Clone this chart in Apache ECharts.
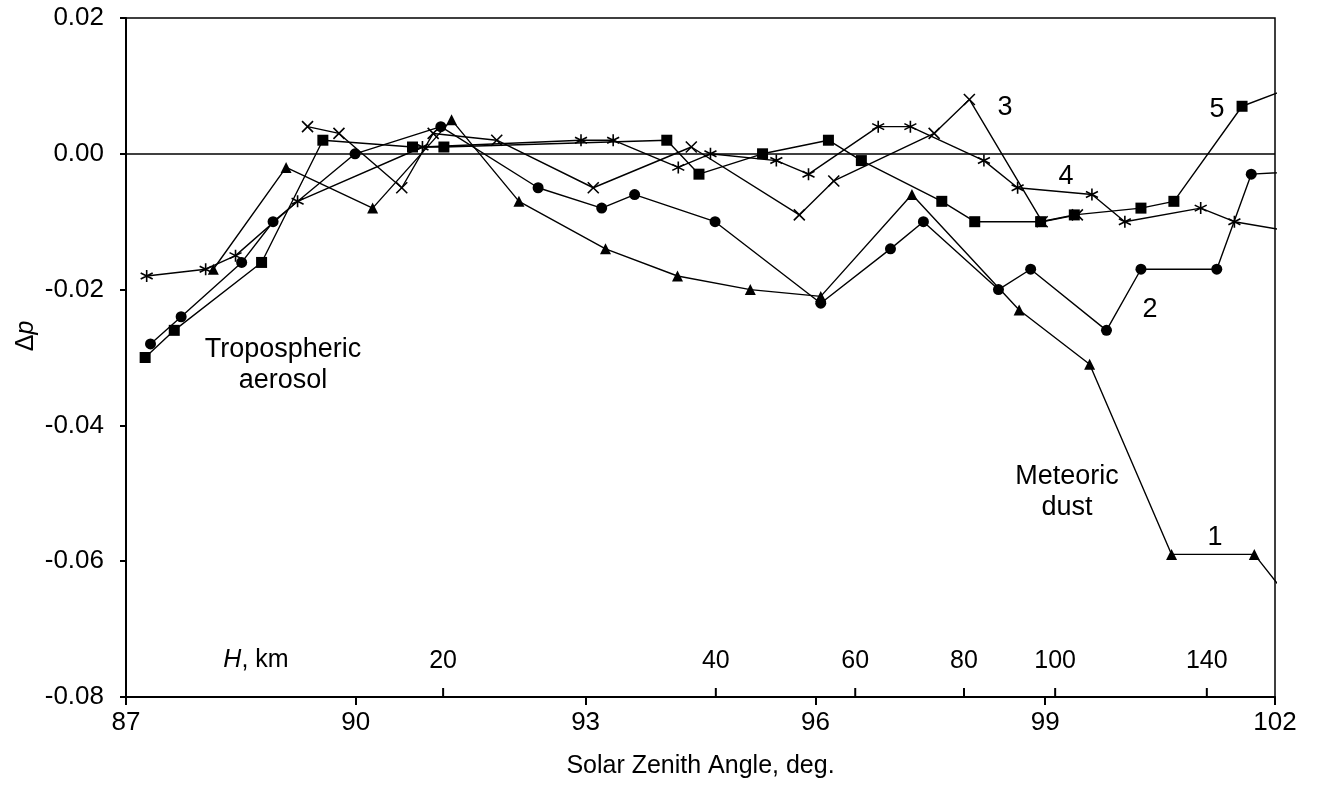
<!DOCTYPE html>
<html>
<head>
<meta charset="utf-8">
<script src="https://cdn.jsdelivr.net/npm/echarts@6/dist/echarts.min.js"></script>
<style>
html, body { margin: 0; padding: 0; background: #fff; }
#chart { width: 1319px; height: 789px; }
</style>
</head>
<body>
<div id="chart"></div>
<script>
// curve 1 - triangles (meteoric dust)
const s1x = [88.14, 89.09, 90.22, 91.25, 92.13, 93.26, 94.20, 95.15, 96.07, 97.26, 98.66, 99.58, 100.65, 101.73, 102.5];
const s1y = [-0.017, -0.002, -0.008, 0.005, -0.007, -0.014, -0.018, -0.020, -0.021, -0.006, -0.023, -0.031, -0.059, -0.059, -0.070];
// curve 2 - circles
const s2x = [87.32, 87.72, 88.51, 88.92, 89.99, 91.11, 92.38, 93.21, 93.64, 94.69, 96.07, 96.98, 97.41, 98.39, 98.81, 99.80, 100.25, 101.24, 101.69, 102.5];
const s2y = [-0.028, -0.024, -0.016, -0.010, 0.000, 0.004, -0.005, -0.008, -0.006, -0.010, -0.022, -0.014, -0.010, -0.020, -0.017, -0.026, -0.017, -0.017, -0.003, -0.0025];
// curve 3 - crosses
const s3x = [89.37, 89.78, 90.60, 91.01, 91.84, 93.10, 94.38, 95.79, 96.24, 97.55, 98.01, 98.96, 99.42];
const s3y = [0.004, 0.003, -0.005, 0.003, 0.002, -0.005, 0.001, -0.009, -0.004, 0.003, 0.008, -0.010, -0.009];
// curve 4 - asterisks
const s4x = [87.27, 88.04, 88.43, 89.24, 90.87, 92.94, 93.36, 94.21, 94.63, 95.49, 95.91, 96.82, 97.24, 98.20, 98.64, 99.61, 100.04, 101.03, 101.47, 102.5];
const s4y = [-0.018, -0.017, -0.015, -0.007, 0.001, 0.002, 0.002, -0.002, 0.000, -0.001, -0.003, 0.004, 0.004, -0.001, -0.005, -0.006, -0.010, -0.008, -0.010, -0.012];
// curve 5 - squares
const s5x = [87.25, 87.63, 88.77, 89.57, 90.74, 91.15, 94.06, 94.48, 95.31, 96.17, 96.60, 97.65, 98.08, 98.94, 99.38, 100.25, 100.68, 101.57, 102.5];
const s5y = [-0.030, -0.026, -0.016, 0.002, 0.001, 0.001, 0.002, -0.003, 0.000, 0.002, -0.001, -0.007, -0.010, -0.010, -0.009, -0.008, -0.007, 0.007, 0.011];

// altitude scale H, km (drawn along the bottom axis)
const hPos = [91.14, 94.70, 96.52, 97.94, 99.13, 101.11];
const hLabels = ['20', '40', '60', '80', '100', '140'];

const xTicks = { min: 87, max: 102, interval: 3 };
const yTicks = { min: -0.08, max: 0.02, interval: 0.02 };

const FONT = '"Liberation Sans", Arial, sans-serif';
const CROSS = 'path://M0,0L10,10M10,0L0,10';
const STAR = 'path://M5,0L5,10M0.7,2.5L9.3,7.5M9.3,2.5L0.7,7.5';

function pairs(xs, ys) {
  return xs.map((x, i) => [x, ys[i]]);
}

function curve(name, xs, ys, symbol, size, open) {
  return {
    name: name,
    type: 'line',
    data: pairs(xs, ys),
    symbol: symbol,
    symbolSize: size,
    showSymbol: true,
    clip: true,
    lineStyle: { color: '#000', width: 1.4 },
    itemStyle: open
      ? { color: '#000', borderColor: '#000', borderWidth: 1.6 }
      : { color: '#000', borderWidth: 0 },
    emphasis: { disabled: true },
    z: 3
  };
}

let myChart = echarts.init(document.getElementById('chart'));

let series = [
  curve('1', s1x, s1y, 'triangle', 11, false),
  curve('2', s2x, s2y, 'circle', 11, false),
  curve('3', s3x, s3y, CROSS, 11, true),
  curve('4', s4x, s4y, STAR, 12, true),
  curve('5', s5x, s5y, 'rect', 11, false)
];

// zero line
series[0].markLine = {
  silent: true,
  symbol: 'none',
  label: { show: false },
  lineStyle: { color: '#000', width: 1.5, type: 'solid' },
  data: [{ yAxis: 0 }]
};

// H ticks and labels
series.push({
  type: 'scatter',
  silent: true,
  data: hPos.map((x, i) => ({ value: [x, yTicks.min], label: { formatter: hLabels[i] } })),
  symbol: 'rect',
  symbolSize: [2, 9],
  symbolOffset: [0, -4.5],
  itemStyle: { color: '#000', opacity: 1 },
  label: {
    show: true,
    position: 'top',
    distance: 14,
    color: '#000',
    opacity: 1,
    fontSize: 25,
    fontFamily: FONT
  },
  emphasis: { disabled: true },
  clip: false,
  z: 4
});

myChart.setOption({
  animation: false,
  backgroundColor: '#fff',
  grid: {
    left: 126,
    right: 44,
    top: 18,
    bottom: 92,
    show: true,
    borderColor: '#000',
    borderWidth: 1.5,
    backgroundColor: 'transparent'
  },
  xAxis: {
    type: 'value',
    min: xTicks.min,
    max: xTicks.max,
    interval: xTicks.interval,
    name: 'Solar Zenith Angle, deg.',
    nameLocation: 'middle',
    nameGap: 57,
    nameTextStyle: { color: '#000', fontSize: 25, fontFamily: FONT },
    axisLine: { onZero: false, lineStyle: { color: '#000', width: 2 } },
    axisTick: { length: 8, lineStyle: { color: '#000', width: 2 } },
    axisLabel: { color: '#000', fontSize: 26, fontFamily: FONT, margin: 13 },
    splitLine: { show: false }
  },
  yAxis: {
    type: 'value',
    min: yTicks.min,
    max: yTicks.max,
    interval: yTicks.interval,
    axisLine: { show: true, lineStyle: { color: '#000', width: 2 } },
    axisTick: { show: true, length: 6, lineStyle: { color: '#000', width: 2 } },
    axisLabel: {
      color: '#000',
      fontSize: 26,
      fontFamily: FONT,
      margin: 22,
      formatter: v => v.toFixed(2)
    },
    splitLine: { show: false }
  },
  graphic: [
    {
      type: 'text', x: 26, y: 336, rotation: Math.PI / 2,
      style: {
        text: '{d|Δ}{i|p}', align: 'center', verticalAlign: 'middle',
        rich: {
          d: { fontSize: 25, fontFamily: FONT, fill: '#000' },
          i: { fontSize: 25, fontFamily: FONT, fontStyle: 'italic', fill: '#000' }
        }
      }
    },
    {
      type: 'text', x: 256, y: 660,
      style: {
        text: '{i|H}, km', align: 'center', verticalAlign: 'middle',
        font: '25px ' + FONT, fill: '#000',
        rich: {
          i: { fontSize: 25, fontFamily: FONT, fontStyle: 'italic', fill: '#000' }
        }
      }
    },
    { type: 'text', x: 283, y: 350, style: { text: 'Tropospheric', align: 'center', verticalAlign: 'middle', font: '27px ' + FONT, fill: '#000' } },
    { type: 'text', x: 283, y: 381, style: { text: 'aerosol', align: 'center', verticalAlign: 'middle', font: '27px ' + FONT, fill: '#000' } },
    { type: 'text', x: 1067, y: 477, style: { text: 'Meteoric', align: 'center', verticalAlign: 'middle', font: '27px ' + FONT, fill: '#000' } },
    { type: 'text', x: 1067, y: 508, style: { text: 'dust', align: 'center', verticalAlign: 'middle', font: '27px ' + FONT, fill: '#000' } },
    { type: 'text', x: 1215, y: 538, style: { text: '1', align: 'center', verticalAlign: 'middle', font: '27px ' + FONT, fill: '#000' } },
    { type: 'text', x: 1150, y: 310, style: { text: '2', align: 'center', verticalAlign: 'middle', font: '27px ' + FONT, fill: '#000' } },
    { type: 'text', x: 1005, y: 108, style: { text: '3', align: 'center', verticalAlign: 'middle', font: '27px ' + FONT, fill: '#000' } },
    { type: 'text', x: 1066, y: 177, style: { text: '4', align: 'center', verticalAlign: 'middle', font: '27px ' + FONT, fill: '#000' } },
    { type: 'text', x: 1217, y: 110, style: { text: '5', align: 'center', verticalAlign: 'middle', font: '27px ' + FONT, fill: '#000' } }
  ],
  series: series
});

window.addEventListener('resize', () => {
  myChart.resize();
});
</script>
</body>
</html>
